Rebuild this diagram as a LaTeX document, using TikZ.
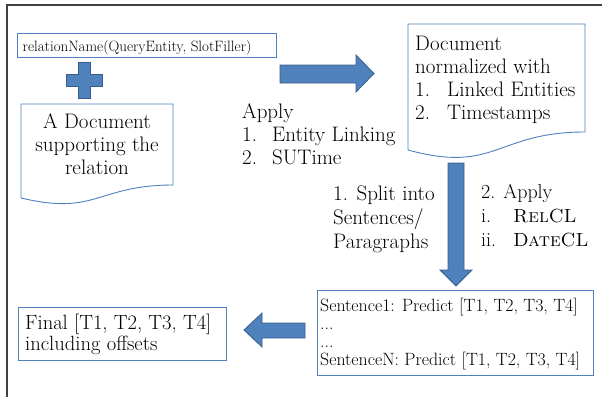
\documentclass[tikz,border=0pt]{standalone}
\usepackage{array}
\definecolor{boxblue}{HTML}{4F81BD}
\definecolor{arrowfill}{HTML}{4F81BD}
\definecolor{arrowline}{HTML}{385D8A}
\definecolor{framegray}{HTML}{404040}
\newcommand{\numlabel}[1]{\makebox[30pt][l]{#1}}
\newcommand{\numlabelB}[1]{\makebox[32pt][l]{#1}}
\tikzset{
  frameline/.style={draw=framegray, line width=1.2pt},
  textbox/.style={draw=boxblue, line width=0.9pt},
  docshape/.style={draw=boxblue, line width=0.9pt, fill=white},
  blockarrow/.style={fill=arrowfill, draw=arrowline, line width=0.8pt, line join=miter},
  lbl/.style={inner sep=0pt, font=\fontsize{21}{23}\selectfont},
  smalllbl/.style={inner sep=0pt, font=\fontsize{15}{17}\selectfont},
  sentlbl/.style={inner sep=0pt, font=\fontsize{17.8}{18}\selectfont},
}
\begin{document}
\begin{tikzpicture}[x=1pt, y=-1pt]
\useasboundingbox (0,0) rectangle (602,397);

% outer frame (top and left edges only)
\draw[frameline] (602,5) -- (7,5) -- (7,397);

% relation box
\draw[textbox] (17,33) rectangle (276,57);
\node[smalllbl, anchor=base west] (rel) at (22.5,51.5) {relationName(QueryEntity, SlotFiller)};

% plus sign
\fill[blockarrow] (78,62) -- (90,62) -- (90,74) -- (102,74) -- (102,86) -- (90,86)
  -- (90,98) -- (78,98) -- (78,86) -- (66,86) -- (66,74) -- (78,74) -- cycle;

% input document
\draw[docshape] (21,104) -- (173,104) -- (173,185)
  .. controls (97,185) and (97,216) .. (21,198) -- cycle;
\node[lbl, anchor=base] (doca) at (97,128)
  {\begin{tabular}[t]{@{}c@{}}A Document\\ supporting the\\ relation\end{tabular}};

% arrow to normalized document
\fill[blockarrow] (280,65) -- (356,65) -- (356,55) -- (374,73.5) -- (356,92)
  -- (356,83) -- (280,83) -- cycle;
\node[lbl, anchor=base west] (applya) at (242,118)
  {\begin{tabular}[t]{@{}l@{}}Apply\\ \numlabel{1.}Entity Linking\\ \numlabel{2.}SUTime\end{tabular}};

% normalized document
\draw[docshape] (408,24) -- (585,24) -- (585,132)
  .. controls (496,132) and (496,174) .. (408,150) -- cycle;
\node[inner sep=0pt, anchor=base west, font=\fontsize{21}{23.3}\selectfont] (docb) at (415,50)
  {\begin{tabular}[t]{@{}l@{}}Document\\ normalized with\\ \numlabelB{1.}Linked Entities\\ \numlabelB{2.}Timestamps\end{tabular}};

% arrow down to sentences
\fill[blockarrow] (448,163) -- (464,163) -- (464,270) -- (472,270) -- (456,286)
  -- (440,270) -- (448,270) -- cycle;
\node[inner sep=0pt, anchor=base west, font=\fontsize{21}{24}\selectfont] (split) at (333,200)
  {\begin{tabular}[t]{@{}l@{}}1. Split into\\ Sentences/\\ Paragraphs\end{tabular}};
\node[inner sep=0pt, anchor=base west, font=\fontsize{20}{24}\selectfont] (applyb) at (481,198)
  {\begin{tabular}[t]{@{}l@{}}2. Apply\\ \numlabelB{i.}{\fontsize{19}{24}\selectfont\textsc{RelCL}}\\ \numlabelB{ii.}{\fontsize{19}{24}\selectfont\textsc{DateCL}}\end{tabular}};

% per-sentence predictions
\draw[textbox] (317,290) rectangle (593,375);
\node[sentlbl, anchor=base west] (sent) at (320,311)
  {\begin{tabular}[t]{@{}l@{}}Sentence1: Predict [T1, T2, T3, T4]\\ ...\\ ...\\ SentenceN: Predict [T1, T2, T3, T4]\end{tabular}};

% arrow to final result
\fill[blockarrow] (305,323) -- (262,323) -- (262,313) -- (244,330) -- (262,347)
  -- (262,338) -- (305,338) -- cycle;

% final result
\draw[textbox] (18,307) rectangle (226,360);
\node[inner sep=0pt, anchor=base west, font=\fontsize{20.6}{21.5}\selectfont] (final) at (25,329)
  {\begin{tabular}[t]{@{}l@{}}Final [T1, T2, T3, T4]\\ including offsets\end{tabular}};
\end{tikzpicture}
\end{document}
